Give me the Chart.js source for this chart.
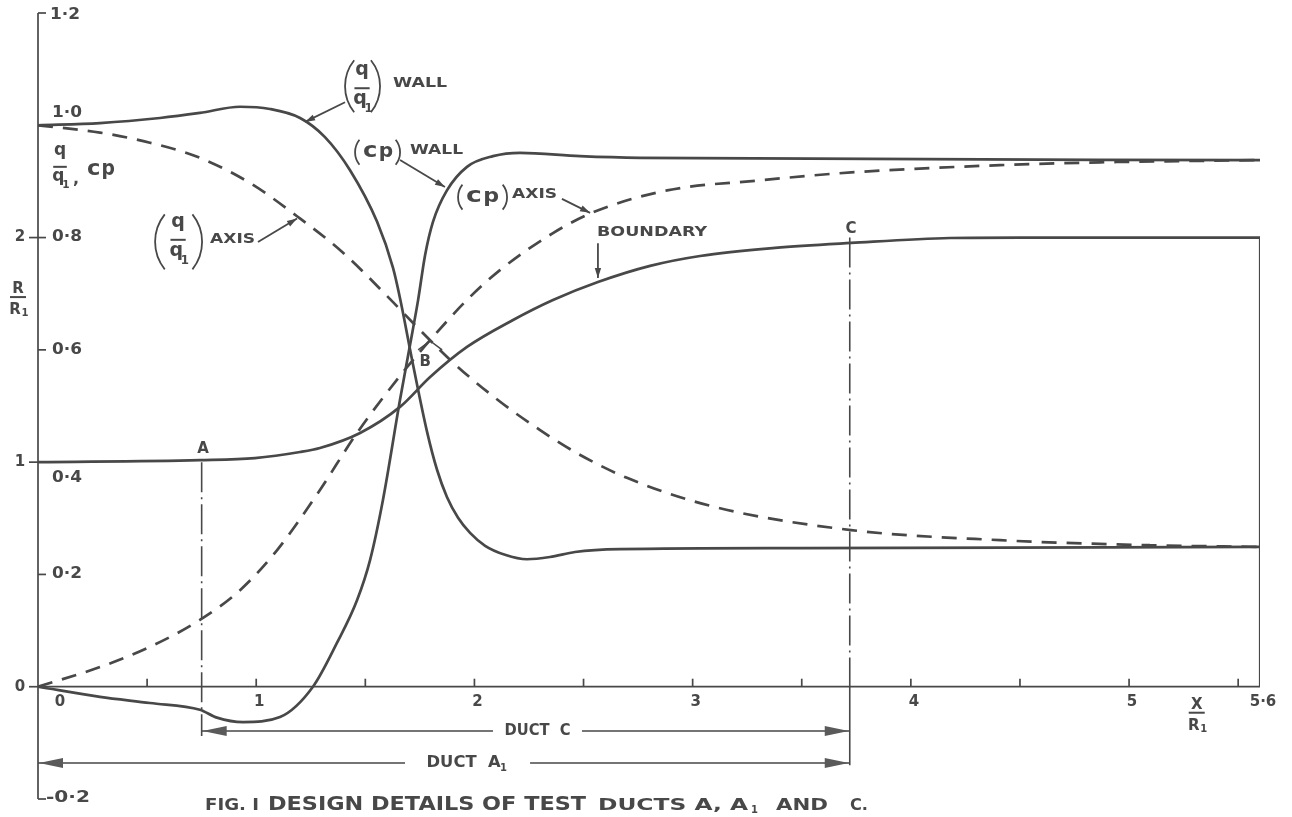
<!DOCTYPE html>
<html>
<head>
<meta charset="utf-8">
<script src="https://cdn.jsdelivr.net/npm/chart.js@4.4.0/dist/chart.umd.min.js"></script>
<style>
  html, body { margin: 0; padding: 0; background: #fff; }
  #wrap { width: 1292px; height: 817px; position: relative; }
</style>
</head>
<body>
<div id="wrap"><canvas id="fig"></canvas></div>
<script>
// readings: x = X/R1, y = q/q1 or Cp, boundary in R/R1
const qWallX = [0, 0.284, 0.559, 0.742, 0.926, 1.063, 1.201, 1.315, 1.43, 1.554, 1.627, 1.659, 1.719, 1.783, 1.829, 1.874, 1.925, 1.98, 2.049, 2.14, 2.241, 2.346, 2.461, 2.667, 3.492, 5.6];
const qWallY = [1.0, 1.004, 1.013, 1.022, 1.033, 1.029, 1.013, 0.979, 0.920, 0.828, 0.746, 0.692, 0.573, 0.454, 0.386, 0.338, 0.301, 0.274, 0.251, 0.235, 0.227, 0.231, 0.240, 0.245, 0.247, 0.249];

const qAxisX = [0, 0.284, 0.513, 0.742, 0.972, 1.187, 1.398, 1.627, 1.751, 1.92, 2.103, 2.301, 2.47, 2.699, 3.093, 3.726, 4.409, 5.096, 5.6];
const qAxisY = [1.0, 0.987, 0.969, 0.942, 0.897, 0.838, 0.773, 0.685, 0.635, 0.571, 0.512, 0.457, 0.416, 0.372, 0.321, 0.279, 0.261, 0.252, 0.249];

const cpWallX = [0, 0.284, 0.513, 0.742, 0.82, 0.94, 1.109, 1.26, 1.37, 1.462, 1.522, 1.581, 1.659, 1.705, 1.742, 1.774, 1.81, 1.874, 1.966, 2.085, 2.209, 2.484, 2.759, 5.6];
const cpWallY = [0, -0.018, -0.029, -0.041, -0.055, -0.063, -0.054, 0, 0.078, 0.154, 0.226, 0.333, 0.511, 0.609, 0.689, 0.769, 0.828, 0.884, 0.926, 0.945, 0.951, 0.945, 0.942, 0.938];

const cpAxisX = [0, 0.284, 0.513, 0.742, 0.926, 1.095, 1.283, 1.462, 1.691, 1.81, 1.966, 2.117, 2.36, 2.544, 2.883, 3.309, 3.726, 4.409, 4.867, 5.6];
const cpAxisY = [0, 0.035, 0.071, 0.119, 0.172, 0.243, 0.345, 0.452, 0.569, 0.623, 0.689, 0.742, 0.808, 0.845, 0.884, 0.902, 0.916, 0.929, 0.934, 0.938];

const boundX = [0, 0.742, 0.994, 1.201, 1.292, 1.476, 1.659, 1.797, 1.966, 2.177, 2.36, 2.566, 2.805, 3.034, 3.378, 3.726, 4.18, 4.5, 5.6];
const boundR = [1.0, 1.009, 1.018, 1.045, 1.063, 1.13, 1.246, 1.379, 1.513, 1.633, 1.722, 1.802, 1.874, 1.918, 1.954, 1.976, 1.998, 2.0, 2.0];

// duct stations A and C, end of duct
const stationX = [0.75, 3.72];
const stationTopR = [1.0, 2.0];
const stationBottomR = [-0.22, -0.35];
const ductEndX = 5.6;

// ticks
const xMinorTicks = [0.5, 1, 1.5, 2, 2.5, 3, 3.5, 4, 4.5, 5, 5.5];
const xTickValues = [0, 1, 2, 3, 4, 5, 5.6];
const xTickLabels = ['0', '1', '2', '3', '4', '5', '5·6'];
const qTickValues = [-0.2, 0.2, 0.4, 0.6, 0.8, 1.0, 1.2];
const qTickLabels = ['-0·2', '0·2', '0·4', '0·6', '0·8', '1·0', '1·2'];
const rTickValues = [0, 1, 2];
const rTickLabels = ['0', '1', '2'];

const INK = '#484848';
const FONT = '"DejaVu Sans", "Liberation Sans", sans-serif';

const pts = (xs, ys) => xs.map((x, i) => ({ x: x, y: ys[i] }));

function curve(xs, ys, axis, dash) {
  return {
    data: pts(xs, ys),
    yAxisID: axis,
    borderColor: INK,
    borderWidth: 2.7,
    borderDash: dash,
    pointRadius: 0,
    fill: false,
    cubicInterpolationMode: 'monotone'
  };
}

function straight(data, axis, dash, width) {
  return {
    data: data,
    yAxisID: axis,
    borderColor: INK,
    borderWidth: width || 1.6,
    borderDash: dash,
    pointRadius: 0,
    fill: false,
    tension: 0
  };
}

function drawText(ctx, s, x, y, size, opts) {
  opts = opts || {};
  ctx.save();
  ctx.font = (opts.light ? '' : 'bold ') + size + 'px ' + FONT;
  ctx.textBaseline = opts.baseline || 'middle';
  ctx.textAlign = 'left';
  const w = ctx.measureText(s).width;
  const sx = opts.width ? opts.width / w : 1;
  const tw = w * sx;
  let left = x;
  if (opts.align === 'center') left = x - tw / 2;
  else if (opts.align === 'right') left = x - tw;
  ctx.translate(left, y);
  ctx.scale(sx, 1);
  ctx.fillText(s, 0, 0);
  ctx.restore();
  return tw;
}

function paren(ctx, x, y, h, dir) {
  const r = h * 0.8;
  const a = Math.asin(h / 2 / r);
  ctx.beginPath();
  if (dir < 0) ctx.arc(x + r, y, r, Math.PI - a, Math.PI + a);
  else ctx.arc(x - r, y, r, -a, a);
  ctx.stroke();
}

// q over q1, bar centred at (cx, cy)
function qOverQ1(ctx, cx, cy, s) {
  drawText(ctx, 'q', cx, cy - 0.68 * s, s, { align: 'center', baseline: 'alphabetic' });
  ctx.fillRect(cx - 0.4 * s, cy - 1, 0.8 * s, 2);
  drawText(ctx, 'q', cx - 0.1 * s, cy + 0.85 * s, s, { align: 'center', baseline: 'alphabetic' });
  drawText(ctx, '1', cx + 0.35 * s, cy + 1.25 * s, 0.62 * s, { align: 'center', baseline: 'alphabetic' });
}

// "Cp" in the lettering style: small C, p dropped a little
function cp(ctx, x, y, s, w) {
  drawText(ctx, 'c', x, y, s * 1.15, { width: w * 0.48 });
  drawText(ctx, 'p', x + w * 0.52, y + 1, s * 1.1, { width: w * 0.48 });
}

function arrowHead(ctx, x1, y1, x2, y2, len, half) {
  const a = Math.atan2(y2 - y1, x2 - x1);
  ctx.beginPath();
  ctx.moveTo(x2, y2);
  ctx.lineTo(x2 - len * Math.cos(a) + half * Math.sin(a), y2 - len * Math.sin(a) - half * Math.cos(a));
  ctx.lineTo(x2 - len * Math.cos(a) - half * Math.sin(a), y2 - len * Math.sin(a) + half * Math.cos(a));
  ctx.closePath();
  ctx.fill();
}

function pointer(ctx, p1, p2) {
  ctx.beginPath();
  ctx.moveTo(p1[0], p1[1]);
  ctx.lineTo(p2[0], p2[1]);
  ctx.stroke();
  arrowHead(ctx, p1[0], p1[1], p2[0], p2[1], 10, 3.2);
}

const figurePlugin = {
  id: 'figure',
  beforeDraw(chart) {
    const ctx = chart.ctx;
    ctx.save();
    ctx.fillStyle = '#ffffff';
    ctx.fillRect(0, 0, chart.width, chart.height);
    ctx.restore();
  },
  afterDatasetsDraw(chart) {
    const ctx = chart.ctx;
    const sx = chart.scales.x, sy = chart.scales.y, sr = chart.scales.yR;
    const P = (x, y) => [sx.getPixelForValue(x), sy.getPixelForValue(y)];
    const x0 = sx.getPixelForValue(0);
    const yZero = sy.getPixelForValue(0);
    ctx.save();
    ctx.strokeStyle = INK;
    ctx.fillStyle = INK;
    ctx.lineWidth = 1.7;

    // axes
    ctx.beginPath();
    ctx.moveTo(x0, sy.getPixelForValue(1.2));
    ctx.lineTo(x0, sy.getPixelForValue(-0.2));
    ctx.moveTo(x0, yZero);
    ctx.lineTo(sx.getPixelForValue(5.6), yZero);
    ctx.stroke();

    // y ticks and labels (q/q1, Cp on the right of the axis)
    qTickValues.forEach((v, i) => {
      const py = sy.getPixelForValue(v);
      const lab = qTickLabels[i];
      if (lab !== '0·4' && lab !== '1·0') {
        ctx.beginPath();
        ctx.moveTo(x0, py);
        ctx.lineTo(x0 + 8, py);
        ctx.stroke();
      }
      let dy = 0, lx = x0 + 14;
      if (lab === '0·4') dy = 16;
      if (lab === '1·0') dy = -12;
      if (lab === '1·2') { dy = 2; lx = x0 + 12; }
      if (lab === '-0·2') { dy = -1; lx = x0 + 8; }
      drawText(ctx, lab, lx, py + dy, 15, { width: lab.length > 3 ? 44 : 30 });
    });
    // R/R1 on the left of the axis
    rTickValues.forEach((v, i) => {
      const py = sr.getPixelForValue(v);
      ctx.beginPath();
      ctx.moveTo(x0 - 9, py);
      ctx.lineTo(x0, py);
      ctx.stroke();
      drawText(ctx, rTickLabels[i], x0 - 18, py, 15, { align: 'center' });
    });

    // x ticks
    xMinorTicks.forEach(v => {
      const px = sx.getPixelForValue(v);
      ctx.beginPath();
      ctx.moveTo(px, yZero);
      ctx.lineTo(px, yZero - 8);
      ctx.stroke();
    });
    xTickValues.forEach((v, i) => {
      const px = sx.getPixelForValue(v);
      const dx = v === 0 ? 22 : 3;
      drawText(ctx, xTickLabels[i], px + dx, yZero + 15, 15, { align: 'center' });
    });

    // axis titles
    qOverQ1(ctx, x0 + 22, sy.getPixelForValue(0.926), 17);
    drawText(ctx, ',', x0 + 35, sy.getPixelForValue(0.903), 16);
    cp(ctx, x0 + 49, sy.getPixelForValue(0.922), 19, 28);
    {
      const cx = x0 - 20, cy = sr.getPixelForValue(1.735);
      drawText(ctx, 'R', cx, cy - 4, 15, { align: 'center', baseline: 'alphabetic' });
      ctx.fillRect(cx - 8, cy - 1, 16, 2);
      drawText(ctx, 'R', cx - 3, cy + 17, 15, { align: 'center', baseline: 'alphabetic' });
      drawText(ctx, '1', cx + 7, cy + 19, 10, { align: 'center', baseline: 'alphabetic' });
    }
    {
      const cx = sx.getPixelForValue(5.31), cy = yZero + 26;
      drawText(ctx, 'X', cx, cy - 4, 15, { align: 'center', baseline: 'alphabetic' });
      ctx.fillRect(cx - 8, cy - 1, 16, 2);
      drawText(ctx, 'R', cx - 3, cy + 17, 15, { align: 'center', baseline: 'alphabetic' });
      drawText(ctx, '1', cx + 7, cy + 19, 10, { align: 'center', baseline: 'alphabetic' });
    }

    // curve labels
    ctx.lineWidth = 1.8;
    {
      const [cx, cy] = P(1.485, 1.066);
      paren(ctx, cx - 17, cy - 2, 52, -1);
      paren(ctx, cx + 18, cy - 2, 52, 1);
      qOverQ1(ctx, cx, cy, 19);
      drawText(ctx, 'WALL', cx + 31, cy - 5, 14, { width: 54 });
      pointer(ctx, P(1.407, 1.041), P(1.224, 1.006));
    }
    {
      const [lx, ly] = P(1.453, 0.952);
      paren(ctx, lx, ly, 25, -1);
      cp(ctx, lx + 8, ly - 1, 18, 30);
      paren(ctx, lx + 45, ly, 25, 1);
      drawText(ctx, 'WALL', lx + 55, ly - 2, 14, { width: 53 });
      pointer(ctx, P(1.659, 0.938), P(1.865, 0.890));
    }
    {
      const [lx, ly] = P(1.925, 0.872);
      paren(ctx, lx, ly, 25, -1);
      cp(ctx, lx + 8, ly - 1, 18, 33);
      paren(ctx, lx + 49, ly, 25, 1);
      drawText(ctx, 'AXIS', lx + 54, ly - 3, 14, { width: 45 });
      pointer(ctx, P(2.401, 0.869), P(2.530, 0.844));
    }
    {
      const [lx, ly] = P(2.562, 0.810);
      drawText(ctx, 'BOUNDARY', lx, ly, 14, { width: 110 });
      pointer(ctx, P(2.566, 0.790), P(2.566, 0.728));
    }
    {
      const [cx, cy] = P(0.642, 0.796);
      paren(ctx, cx - 23, cy + 2, 55, -1);
      paren(ctx, cx + 24, cy + 2, 55, 1);
      qOverQ1(ctx, cx, cy, 19);
      drawText(ctx, 'AXIS', cx + 32, cy, 14, { width: 45 });
      pointer(ctx, P(1.008, 0.792), P(1.187, 0.834));
    }

    // point letters
    let p = P(0.756, 0.423);
    drawText(ctx, 'A', p[0], p[1], 15, { align: 'center' });
    p = P(1.774, 0.578);
    drawText(ctx, 'B', p[0], p[1], 15, { align: 'center' });
    p = P(3.726, 0.815);
    drawText(ctx, 'C', p[0], p[1], 15, { align: 'center' });
    ctx.lineWidth = 1.5;
    ctx.beginPath();
    p = P(1.742, 0.600); ctx.moveTo(p[0], p[1]);
    p = P(1.797, 0.616); ctx.lineTo(p[0], p[1]);
    p = P(1.852, 0.600); ctx.lineTo(p[0], p[1]);
    ctx.stroke();

    // dimension lines for the ducts
    function dimension(xa, xb, yv, label, gapA, gapB, withSub) {
      const [pa, py] = P(xa, yv);
      const pb = sx.getPixelForValue(xb);
      const ga = sx.getPixelForValue(gapA), gb = sx.getPixelForValue(gapB);
      ctx.beginPath();
      ctx.moveTo(pa, py); ctx.lineTo(ga, py);
      ctx.moveTo(gb, py); ctx.lineTo(pb, py);
      ctx.stroke();
      ctx.fillStyle = '#5a5a5a';
      arrowHead(ctx, pa + 30, py, pa + 1, py, 24, 5);
      arrowHead(ctx, pb - 30, py, pb - 1, py, 24, 5);
      ctx.fillStyle = INK;
      const mid = (ga + gb) / 2;
      if (withSub) {
        drawText(ctx, label, mid - 4, py, 15, { align: 'center', width: 74 });
        drawText(ctx, '1', mid + 36, py + 5, 10, { align: 'center' });
      } else {
        drawText(ctx, label, mid, py, 15, { align: 'center', width: 66 });
      }
    }
    dimension(stationX[0], stationX[1], -0.079, 'DUCT  C', 2.085, 2.493, false);
    dimension(0, stationX[1], -0.136, 'DUCT  A', 1.682, 2.255, true);

    // caption
    const base = 810;
    const cap = { baseline: 'alphabetic' };
    drawText(ctx, 'FIG. I', 205, base, 15, Object.assign({ width: 54 }, cap));
    drawText(ctx, 'DESIGN DETAILS OF TEST', 268, base, 20, Object.assign({ width: 318 }, cap));
    drawText(ctx, 'DUCTS A, A', 598, base, 15, Object.assign({ width: 150 }, cap));
    drawText(ctx, '1', 751, base + 3, 10, cap);
    drawText(ctx, 'AND', 776, base, 15, Object.assign({ width: 52 }, cap));
    drawText(ctx, 'C.', 850, base, 15, Object.assign({ width: 18 }, cap));

    ctx.restore();
  }
};

const datasets = [
  curve(qWallX, qWallY, 'y', []),
  curve(qAxisX, qAxisY, 'y', [15, 10]),
  curve(cpWallX, cpWallY, 'y', []),
  curve(cpAxisX, cpAxisY, 'y', [15, 10]),
  curve(boundX, boundR, 'yR', []),
  straight([{ x: ductEndX, y: 0 }, { x: ductEndX, y: 2 }], 'yR', [], 2.2),
  straight([{ x: stationX[0], y: stationTopR[0] }, { x: stationX[0], y: stationBottomR[0] }], 'yR', [30, 5, 2, 5]),
  straight([{ x: stationX[1], y: stationTopR[1] }, { x: stationX[1], y: 0 }], 'yR', [30, 5, 2, 5]),
  straight([{ x: stationX[1], y: 0 }, { x: stationX[1], y: stationBottomR[1] }], 'yR', [])
];

new Chart(document.getElementById('fig'), {
  type: 'line',
  data: { datasets: datasets },
  options: {
    responsive: true,
    maintainAspectRatio: false,
    animation: false,
    layout: { padding: { left: 38, right: 32, top: 13, bottom: 18 } },
    plugins: { legend: { display: false }, tooltip: { enabled: false } },
    scales: {
      x: { type: 'linear', min: 0, max: 5.6, display: false },
      y: { type: 'linear', min: -0.2, max: 1.2, display: false },
      yR: { type: 'linear', axis: 'y', min: -0.5, max: 3.0, display: false }
    }
  },
  plugins: [figurePlugin]
});
</script>
</body>
</html>
